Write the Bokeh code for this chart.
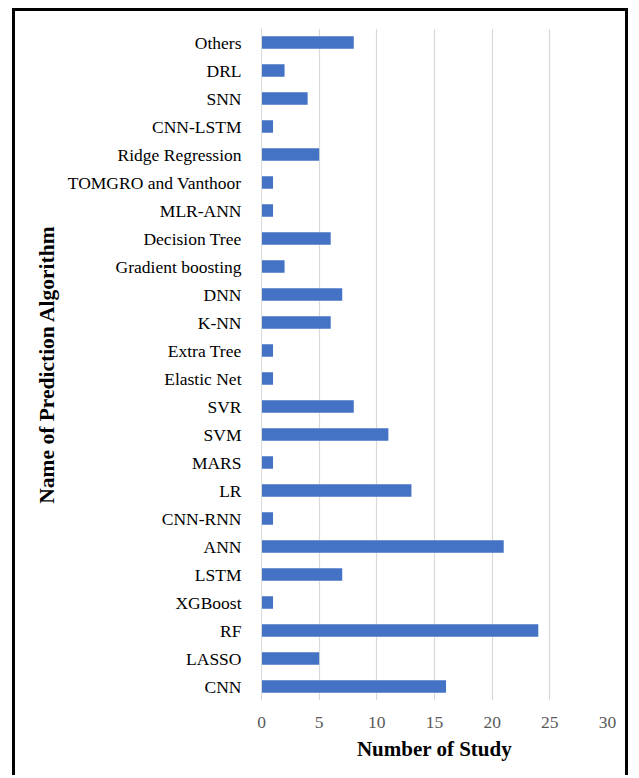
from bokeh.plotting import figure
from bokeh.models import ColumnDataSource, FactorRange, Range1d, FixedTicker
from bokeh.embed import file_html
from bokeh.resources import INLINE

# Prediction algorithms, listed from the bottom of the chart to the top
algorithms = [
    "CNN", "LASSO", "RF", "XGBoost", "LSTM", "ANN", "CNN-RNN", "LR", "MARS",
    "SVM", "SVR", "Elastic Net", "Extra Tree", "K-NN", "DNN",
    "Gradient boosting", "Decision Tree", "MLR-ANN", "TOMGRO and Vanthoor",
    "Ridge Regression", "CNN-LSTM", "SNN", "DRL", "Others",
]
study_counts = [16, 5, 24, 1, 7, 21, 1, 13, 1, 11, 8, 1, 1, 6, 7, 2, 6, 1, 1, 5, 1, 4, 2, 8]
x_ticks = [0, 5, 10, 15, 20, 25, 30]

source = ColumnDataSource(data=dict(algorithm=algorithms, count=study_counts))

FONT = "Liberation Serif"

p = figure(
    width=616, height=767,
    y_range=FactorRange(factors=algorithms, range_padding=0),
    x_range=Range1d(0, 30),
    output_backend="svg", toolbar_location=None,
    min_border_left=246, min_border_right=24, min_border_top=17, min_border_bottom=78,
)
# Open frame around the chart: left, top and right edges only
p.styles = {
    "margin-left": "12px",
    "margin-top": "8px",
    "border-left": "3px solid black",
    "border-top": "3px solid black",
    "border-right": "3px solid black",
    "border-bottom": "none",
}

p.hbar(y="algorithm", right="count", left=0, height=0.45, source=source,
       fill_color="#4472C4", line_color=None)

p.outline_line_color = None
p.background_fill_color = "white"
p.border_fill_color = "white"
p.ygrid.grid_line_color = None
p.xgrid.grid_line_color = "#d9d9d9"
p.xgrid.grid_line_width = 1.2

p.xaxis.ticker = FixedTicker(ticks=x_ticks)
p.xaxis.axis_line_color = None
p.xaxis.major_tick_line_color = None
p.xaxis.minor_tick_line_color = None
p.xaxis.major_label_text_font = FONT
p.xaxis.major_label_text_font_size = "17.5px"
p.xaxis.major_label_text_color = "#595959"
p.xaxis.major_label_standoff = 10
p.xaxis.axis_label = "Number of Study"
p.xaxis.axis_label_text_font = FONT
p.xaxis.axis_label_text_font_size = "21px"
p.xaxis.axis_label_text_font_style = "bold"
p.xaxis.axis_label_text_color = "black"
p.xaxis.axis_label_standoff = 6

p.yaxis.axis_line_color = "#d9d9d9"
p.yaxis.major_tick_line_color = None
p.yaxis.minor_tick_line_color = None
p.yaxis.major_label_text_font = FONT
p.yaxis.major_label_text_font_size = "17.5px"
p.yaxis.major_label_text_color = "black"
p.yaxis.major_label_standoff = 14
p.yaxis.axis_label = "Name of Prediction Algorithm"
p.yaxis.axis_label_text_font = FONT
p.yaxis.axis_label_text_font_size = "21.5px"
p.yaxis.axis_label_text_font_style = "bold"
p.yaxis.axis_label_text_color = "black"
p.yaxis.axis_label_standoff = 6

open("out.html", "w").write(file_html(p, INLINE))
